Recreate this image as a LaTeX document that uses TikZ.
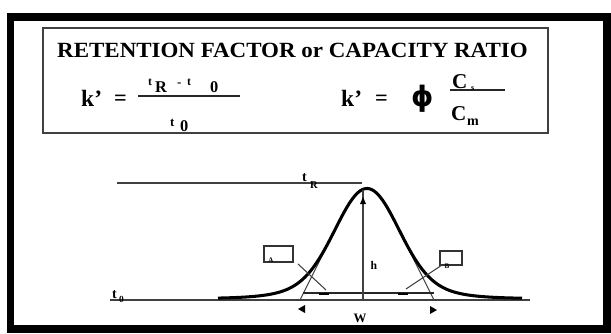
\documentclass[tikz,border=0pt]{standalone}
\usepackage{graphicx}
\usepackage{fontspec}
\setmainfont{Liberation Serif}
\newfontfamily\phifont{DejaVu Sans}
\begin{document}
\begin{tikzpicture}[x=0.03cm,y=-0.03cm,
  frame/.style={line width=6.5pt,black},
  ibox/.style={line width=1.1pt,draw=black!75},
  thinline/.style={line width=0.9pt,black!75},
  peakline/.style={line width=2.6pt,black},
  lbl/.style={inner sep=0pt,font=\bfseries},
  bar/.style={line width=1.3pt,black!85},
  callbox/.style={line width=0.9pt,draw=black!80},
  tickmk/.style={line width=2.2pt,black},
]
\useasboundingbox (0,0) rectangle (611,333);
\fill[white] (0,0) rectangle (611,333);
% outer frame and formula box
\draw[frame] (10.5,17) rectangle (607,329);
\draw[ibox] (43,28) rectangle (548,133);
\node[lbl,anchor=base] (title) at (292.5,57)
  {\fontsize{18.5}{20}\selectfont\scalebox{1.06}[1]{RETENTION FACTOR or CAPACITY RATIO}};
% left formula
\node[lbl,anchor=base west] (k1) at (81,106) {\fontsize{20}{22}\selectfont k’};
\node[lbl,anchor=base west] (eq1) at (114,105) {\fontsize{19}{20}\selectfont =};
\node[lbl,anchor=base west] (nt1) at (148,85) {\fontsize{10}{12}\selectfont t};
\node[lbl,anchor=base west] (nR) at (155,92) {\fontsize{14}{15}\selectfont R};
\node[lbl,anchor=base west] (nmin) at (177,86) {\fontsize{11}{12}\selectfont -};
\node[lbl,anchor=base west] (nt2) at (187,85) {\fontsize{10}{12}\selectfont t};
\node[lbl,anchor=base west] (n0) at (210,92) {\fontsize{14}{15}\selectfont 0};
\coordinate (b1l) at (138,96);
\coordinate (b1r) at (240,96);
\draw[bar] (b1l) -- (b1r);
\node[lbl,anchor=base west] (dt) at (170,126) {\fontsize{11}{12}\selectfont t};
\node[lbl,anchor=base west] (d0) at (180,131) {\fontsize{14}{15}\selectfont 0};
% right formula
\node[lbl,anchor=base west] (k2) at (341,106) {\fontsize{20}{22}\selectfont k’};
\node[lbl,anchor=base west] (eq2) at (375,105) {\fontsize{19}{20}\selectfont =};
\node[lbl,anchor=base west] (phi) at (411,106) {\fontsize{24}{26}\phifont\bfseries ϕ};
\coordinate (b2l) at (450,90);
\coordinate (b2r) at (505,90);
\draw[bar] (b2l) -- (b2r);
\node[lbl,anchor=base west] (cs) at (452,88) {\fontsize{18}{19}\selectfont C};
\node[lbl,anchor=base west] (cssub) at (471,90) {\fontsize{7}{8}\selectfont s};
\node[lbl,anchor=base west] (cm) at (451,120) {\fontsize{18}{19}\selectfont C};
\node[lbl,anchor=base west] (cmsub) at (467,125) {\fontsize{12}{13}\selectfont m};
% chromatogram
\coordinate (trl) at (117,183);
\coordinate (trr) at (362,183);
\draw[thinline] (trl) -- (trr);
\node[lbl,anchor=base west] (trt) at (302,181) {\fontsize{12}{13}\selectfont t};
\node[lbl,anchor=base west] (trR) at (310,188) {\fontsize{9}{10}\selectfont R};
\coordinate (bl) at (110,300);
\coordinate (br) at (530,300);
\draw[thinline] (bl) -- (br);
\node[lbl,anchor=base west] (t0t) at (112,298) {\fontsize{12}{13}\selectfont t};
\node[lbl,anchor=base west] (t00) at (119,302) {\fontsize{8}{9}\selectfont 0};
% tangents and width line
\coordinate (tanLb) at (300,300);
\coordinate (tanLt) at (334,232);
\coordinate (tanRb) at (434,300);
\coordinate (tanRt) at (400,232);
\draw[thinline] (tanLb) -- (tanLt);
\draw[thinline] (tanRb) -- (tanRt);
\coordinate (wl) at (303,293);
\coordinate (wr) at (434,293);
\draw[line width=1pt,black!85] (wl) -- (wr);
% peak
\draw[peakline,line join=round]
  plot[domain=218:522,samples=180,smooth]
  (\x,{298.5-110*(0.85*exp(-0.5*((\x-367)/31)^2)+0.15*exp(-0.5*((\x-367)/55)^2))});
% height
\coordinate (hb) at (363,300);
\coordinate (ht) at (363,190);
\draw[thinline] (hb) -- (ht);
\fill[black] (360,204) -- (366,204) -- (363,197) -- cycle;
\node[lbl] (h) at (374,265) {\fontsize{10}{11}\selectfont h};
% callouts
\draw[callbox] (264,246) rectangle (293,262);
\node[lbl] (A) at (271,260) {\fontsize{6}{7}\selectfont A};
\coordinate (ca1) at (298,264);
\coordinate (ca2) at (326,290);
\draw[thinline] (ca1) -- (ca2);
\draw[tickmk] (319,294) -- (329,294);
\draw[callbox] (440,251) rectangle (462,265);
\node[lbl] (B) at (447,266) {\fontsize{6}{7}\selectfont B};
\coordinate (cb1) at (442,265);
\coordinate (cb2) at (406,289);
\draw[thinline] (cb1) -- (cb2);
\draw[tickmk] (398,294) -- (408,294);
% width arrows
\fill[black] (298,309) -- (305,305) -- (305,313) -- cycle;
\fill[black] (437,310) -- (430,306) -- (430,314) -- cycle;
\node[lbl] (W) at (360,318) {\fontsize{11}{12}\selectfont W};
\end{tikzpicture}
\end{document}
